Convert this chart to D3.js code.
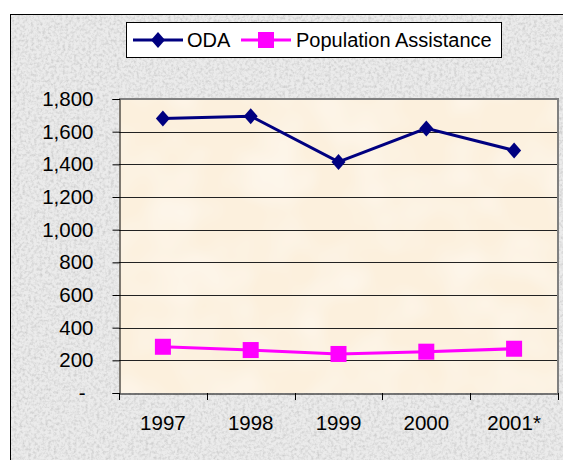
<!DOCTYPE html>
<html><head><meta charset="utf-8">
<script src="https://cdn.jsdelivr.net/npm/d3@7"></script>
<style>body{margin:0;background:#fff;}svg{display:block;}</style>
</head><body><div id="chart"></div>
<script>
const categories = ["1997", "1998", "1999", "2000", "2001*"];
const odaValues = [1680, 1695, 1415, 1620, 1485];
const popValues = [283, 263, 239, 253, 271];
const yTicks = [0, 200, 400, 600, 800, 1000, 1200, 1400, 1600, 1800];
const seriesNames = ["ODA", "Population Assistance"];

const W = 563, H = 460;
const FONT = "Arial, 'Liberation Sans', sans-serif";
const svg = d3.select("#chart").append("svg").attr("width", W).attr("height", H);
const defs = svg.append("defs");
const f = defs.append("filter").attr("id", "granite").attr("x", 0).attr("y", 0).attr("width", 1).attr("height", 1);
f.append("feTurbulence").attr("type", "fractalNoise").attr("baseFrequency", 0.35).attr("numOctaves", 3).attr("seed", 4).attr("result", "n");
f.append("feColorMatrix").attr("in", "n").attr("type", "matrix")
  .attr("values", "0 0 0 0 0.6  0 0 0 0 0.6  0 0 0 0 0.6  0 0 0 -2.0 1.2").attr("result", "c");
f.append("feComposite").attr("in", "c").attr("in2", "SourceGraphic").attr("operator", "atop");

const f2 = defs.append("filter").attr("id", "paper").attr("x", 0).attr("y", 0).attr("width", 1).attr("height", 1);
f2.append("feTurbulence").attr("type", "fractalNoise").attr("baseFrequency", 0.02).attr("numOctaves", 2).attr("seed", 2).attr("result", "n");
f2.append("feColorMatrix").attr("in", "n").attr("type", "matrix")
  .attr("values", "0 0 0 0 1  0 0 0 0 1  0 0 0 0 1  0 0 0 -0.8 0.5").attr("result", "c");
f2.append("feComposite").attr("in", "c").attr("in2", "SourceGraphic").attr("operator", "atop");

// outer background
svg.append("rect").attr("x", 10.5).attr("y", 14.5).attr("width", W).attr("height", H)
  .attr("fill", "#ebebeb").attr("filter", "url(#granite)");
svg.append("rect").attr("x", 10.5).attr("y", 14.5).attr("width", W).attr("height", H)
  .attr("fill", "none").attr("stroke", "#000").attr("stroke-width", 1);

const m = {left: 119, top: 99, right: 558, bottom: 393};
const x = d3.scaleBand().domain(categories).range([m.left, m.right]);
const y = d3.scaleLinear().domain([0, 1800]).range([m.bottom, m.top]);

// plot area
svg.append("rect").attr("x", m.left).attr("y", m.top).attr("width", m.right - m.left).attr("height", m.bottom - m.top)
  .attr("fill", "#fcf0dd").attr("filter", "url(#paper)");

// gridlines
svg.append("g").selectAll("line").data(yTicks.filter(d => d > 0 && d < 1800)).join("line")
  .attr("x1", m.left).attr("x2", m.right)
  .attr("y1", d => Math.round(y(d)) + 0.5).attr("y2", d => Math.round(y(d)) + 0.5)
  .attr("stroke", "#222").attr("stroke-width", 1);

// plot border top/right (gray)
svg.append("path").attr("d", `M${m.left},${m.top}H${m.right}V${m.bottom}`)
  .attr("fill", "none").attr("stroke", "#808080").attr("stroke-width", 2);

// y axis
const yAxis = d3.axisLeft(y).tickValues(yTicks).tickSize(7).tickPadding(19)
  .tickFormat(d => d === 0 ? "-" : d3.format(",")(d));
const gy = svg.append("g").attr("transform", `translate(${m.left + 0.5},0)`).call(yAxis);
gy.select(".domain").attr("stroke", "#000");
gy.selectAll(".tick line").attr("stroke", "#000");
gy.selectAll(".tick text").attr("font-family", FONT).attr("font-size", 20.5).attr("fill", "#000");
gy.selectAll(".tick").filter(d => d === 0).select("text").attr("dx", "-8");

// x axis
const xAxis = d3.axisBottom(x).tickSize(0).tickPadding(22);
const gx = svg.append("g").attr("transform", `translate(0,${m.bottom + 0.5})`).call(xAxis);
gx.select(".domain").attr("stroke", "#000");
gx.selectAll(".tick text").attr("font-family", FONT).attr("font-size", 20.5).attr("fill", "#000");
// category boundary ticks
const bounds = categories.map(c => x(c)).concat([m.right]);
svg.append("g").selectAll("line").data(bounds).join("line")
  .attr("x1", d => Math.round(d) + 0.5).attr("x2", d => Math.round(d) + 0.5)
  .attr("y1", m.bottom).attr("y2", m.bottom + 7).attr("stroke", "#000");

const cx = c => x(c) + x.bandwidth() / 2;
const line = d3.line().x((d, i) => cx(categories[i])).y(d => y(d));
const diamondPath = "M0,-8L7,0L0,8L-7,0Z";

// ODA
svg.append("path").datum(odaValues).attr("d", line).attr("fill", "none").attr("stroke", "#000080").attr("stroke-width", 3);
svg.append("g").selectAll("path").data(odaValues).join("path")
  .attr("transform", (d, i) => `translate(${cx(categories[i])},${y(d)})`)
  .attr("d", diamondPath).attr("fill", "#000080");

// Population
svg.append("path").datum(popValues).attr("d", line).attr("fill", "none").attr("stroke", "#ff00ff").attr("stroke-width", 3);
svg.append("g").selectAll("rect").data(popValues).join("rect")
  .attr("x", (d, i) => cx(categories[i]) - 8).attr("y", d => y(d) - 8)
  .attr("width", 16).attr("height", 16).attr("fill", "#ff00ff");

// legend
const lg = svg.append("g");
lg.append("rect").attr("x", 126.5).attr("y", 22.5).attr("width", 375).attr("height", 35)
  .attr("fill", "#fff").attr("stroke", "#000");
const ly = 40;
lg.append("line").attr("x1", 133).attr("x2", 183).attr("y1", ly).attr("y2", ly).attr("stroke", "#000080").attr("stroke-width", 3);
lg.append("path").attr("transform", `translate(158,${ly})`).attr("d", diamondPath).attr("fill", "#000080");
lg.append("text").attr("x", 187).attr("y", ly + 7).text(seriesNames[0])
  .attr("font-family", FONT).attr("font-size", 20);
lg.append("line").attr("x1", 241).attr("x2", 291).attr("y1", ly).attr("y2", ly).attr("stroke", "#ff00ff").attr("stroke-width", 3);
lg.append("rect").attr("x", 258).attr("y", ly - 8).attr("width", 16).attr("height", 16).attr("fill", "#ff00ff");
lg.append("text").attr("x", 296).attr("y", ly + 7).text(seriesNames[1])
  .attr("font-family", FONT).attr("font-size", 20);
</script></body></html>
